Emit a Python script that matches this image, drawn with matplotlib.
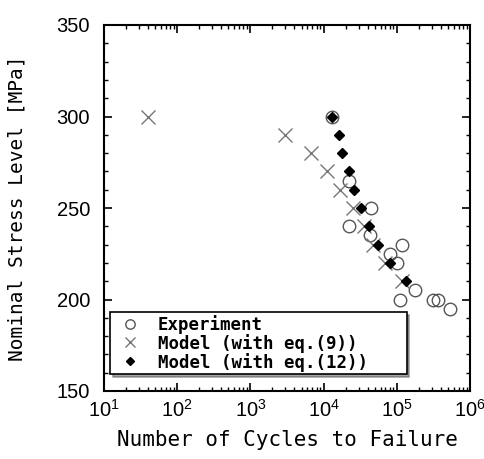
import numpy as np
import matplotlib
matplotlib.use("Agg")
import matplotlib.pyplot as plt
from matplotlib.ticker import LogLocator, MultipleLocator

# Experiment
exp_n = [13000, 22000, 45000, 22000, 43000, 117000, 81000, 100000, 180000,
         112000, 310000, 370000, 540000]
exp_s = [300, 265, 250, 240, 235, 230, 225, 220, 205, 200, 200, 200, 195]

# Model (with eq. (9))
m9_n = [40, 3000, 6700, 11000, 17000, 25000, 36000, 47000, 68000, 117000]
m9_s = [300, 290, 280, 270, 260, 250, 240, 230, 220, 210]

# Model (with eq. (12))
m12_n = [13000, 16000, 18000, 22000, 26000, 32000, 42000, 56000, 81000, 135000]
m12_s = [300, 290, 280, 270, 260, 250, 240, 230, 220, 210]

mono = "DejaVu Sans Mono"

fig = plt.figure(figsize=(4.85, 4.59), dpi=100)
ax = fig.add_axes([104 / 485, 1 - 391 / 459, 366 / 485, 366 / 459])

ax.plot(exp_n, exp_s, "o", mfc="none", mec="#555555", ms=9, mew=1.0,
        label="Experiment")
ax.plot(m9_n, m9_s, "x", color="#777777", ms=10, mew=1.0,
        label="Model (with eq.(9))")
ax.plot(m12_n, m12_s, "D", color="black", ms=5.5, label="Model (with eq.(12))")

ax.set_xscale("log")
ax.set_xlim(10, 1e6)
ax.set_ylim(150, 350)
ax.xaxis.set_major_locator(LogLocator(base=10, numticks=10))
ax.xaxis.set_minor_locator(LogLocator(base=10, subs=np.arange(2, 10), numticks=20))
ax.yaxis.set_major_locator(MultipleLocator(50))
ax.yaxis.set_minor_locator(MultipleLocator(10))
ax.tick_params(which="both", direction="in", top=True, right=True)
ax.tick_params(which="major", length=6, width=1.2, labelsize=14.5)
ax.tick_params(axis="y", which="major", pad=10)
ax.tick_params(axis="x", which="major", pad=6)
ax.tick_params(which="minor", length=3, width=1.0)
for lab in ax.get_xticklabels() + ax.get_yticklabels():
    lab.set_family("Liberation Sans")
for s in ax.spines.values():
    s.set_linewidth(1.5)

ax.set_xlabel("Number of Cycles to Failure", fontsize=15, family=mono,
              labelpad=6)
ax.set_ylabel("Nominal Stress Level [MPa]", fontsize=14, family=mono,
              labelpad=22)

leg = ax.legend(loc="lower left", bbox_to_anchor=(0.016, 0.046, 0.811, 0.17),
                mode="expand",
                prop={"family": mono, "size": 12.5, "weight": "bold"},
                fancybox=False, shadow=True, edgecolor="black", framealpha=1,
                handletextpad=0.6, handlelength=2.0, borderpad=0.15,
                labelspacing=0.0, borderaxespad=0, markerscale=0.75)
leg.get_frame().set_linewidth(1.2)

fig.savefig("out.png", dpi=100)
